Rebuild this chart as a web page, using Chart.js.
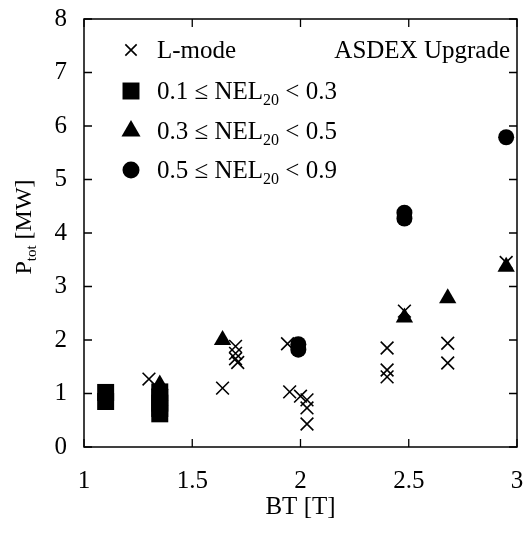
<!DOCTYPE html>
<html>
<head>
<meta charset="utf-8">
<script src="https://cdn.jsdelivr.net/npm/chart.js@4.4.0/dist/chart.umd.min.js"></script>
<style>
  html, body { margin: 0; padding: 0; background: #fff; }
  #wrap { width: 523px; height: 533px; position: relative; }
</style>
</head>
<body>
<div id="wrap"><canvas id="pwrChart"></canvas></div>
<script>
// Data
const lmodeBT = [1.30, 1.64, 1.70, 1.70, 1.70, 1.71, 1.94, 1.95, 2.00, 2.03, 2.03, 2.03, 2.40, 2.40, 2.40, 2.48, 2.68, 2.68, 2.95];
const lmodeP  = [1.27, 1.10, 1.88, 1.75, 1.65, 1.58, 1.93, 1.03, 0.95, 0.88, 0.73, 0.43, 1.85, 1.44, 1.31, 2.54, 1.94, 1.57, 3.45];

const nelLowBT = [1.10, 1.10, 1.35, 1.35, 1.35, 1.35, 1.35];
const nelLowP  = [1.02, 0.85, 1.03, 0.93, 0.82, 0.72, 0.62];

const nelMidBT = [1.35, 1.64, 2.48, 2.68, 2.95];
const nelMidP  = [1.17, 2.00, 2.42, 2.78, 3.37];

const nelHighBT = [1.99, 1.99, 2.48, 2.48, 2.95];
const nelHighP  = [1.92, 1.82, 4.38, 4.27, 5.79];

const seriesLabels = ['L-mode', '0.1 ≤ NEL_{20} < 0.3', '0.3 ≤ NEL_{20} < 0.5', '0.5 ≤ NEL_{20} < 0.9'];
const xTicks = [1, 1.5, 2, 2.5, 3];
const yTicks = [0, 1, 2, 3, 4, 5, 6, 7, 8];
const xTitle = 'BT [T]';
const yTitle = 'P_{tot} [MW]';
const corner = 'ASDEX Upgrade';

const serif = "'Liberation Serif', 'Times New Roman', serif";

function zip(xs, ys) {
  return xs.map((x, i) => ({ x: x, y: ys[i] }));
}

// Series styling
const styles = [
  { pointStyle: 'crossRot', radius: 9, borderWidth: 1.6, legendRadius: 8 },
  { pointStyle: 'rect', radius: 12, borderWidth: 0, legendRadius: 12 },
  { pointStyle: 'triangle', radius: 10, borderWidth: 0, legendRadius: 11 },
  { pointStyle: 'circle', radius: 8, borderWidth: 0, legendRadius: 8.5 }
];

const seriesData = [zip(lmodeBT, lmodeP), zip(nelLowBT, nelLowP), zip(nelMidBT, nelMidP), zip(nelHighBT, nelHighP)];

// draws text with _{..} subscripts, returns width
function drawRich(ctx, str, x, y, size, align) {
  const parts = [];
  const re = /_\{([^}]*)\}/g;
  let last = 0, m;
  while ((m = re.exec(str)) !== null) {
    if (m.index > last) parts.push({ t: str.slice(last, m.index), sub: false });
    parts.push({ t: m[1], sub: true });
    last = re.lastIndex;
  }
  if (last < str.length) parts.push({ t: str.slice(last), sub: false });

  const subSize = Math.round(size * 0.62);
  let total = 0;
  parts.forEach(p => {
    ctx.font = (p.sub ? subSize : size) + 'px ' + serif;
    p.w = ctx.measureText(p.t).width;
    total += p.w;
  });
  let cx = align === 'center' ? x - total / 2 : (align === 'right' ? x - total : x);
  ctx.textAlign = 'left';
  ctx.textBaseline = 'alphabetic';
  parts.forEach(p => {
    ctx.font = (p.sub ? subSize : size) + 'px ' + serif;
    ctx.fillText(p.t, cx, p.sub ? y + size * 0.22 : y);
    cx += p.w;
  });
  return total;
}

const framePlugin = {
  id: 'frameAndLegend',
  afterDraw(chart) {
    const ctx = chart.ctx;
    const area = chart.chartArea;
    const xs = chart.scales.x, ys = chart.scales.y;
    ctx.save();
    ctx.strokeStyle = '#000';
    ctx.fillStyle = '#000';

    // frame
    ctx.lineWidth = 1.5;
    ctx.strokeRect(area.left, area.top, area.right - area.left, area.bottom - area.top);

    // inward ticks on all sides
    const tl = 8;
    ctx.lineWidth = 1.3;
    ctx.beginPath();
    xTicks.forEach(v => {
      const px = xs.getPixelForValue(v);
      ctx.moveTo(px, area.bottom); ctx.lineTo(px, area.bottom - tl);
      ctx.moveTo(px, area.top); ctx.lineTo(px, area.top + tl);
    });
    yTicks.forEach(v => {
      const py = ys.getPixelForValue(v);
      ctx.moveTo(area.left, py); ctx.lineTo(area.left + tl, py);
      ctx.moveTo(area.right, py); ctx.lineTo(area.right - tl, py);
    });
    ctx.stroke();

    // axis titles
    drawRich(ctx, xTitle, (area.left + area.right) / 2, area.bottom + 67, 25, 'center');
    ctx.save();
    ctx.translate(31, (area.top + area.bottom) / 2 - 6);
    ctx.rotate(-Math.PI / 2);
    drawRich(ctx, yTitle, 0, 0, 24, 'center');
    ctx.restore();

    // legend
    const rowY = [50, 91, 131, 170];
    const markX = 131, textX = 157;
    seriesLabels.forEach((lab, i) => {
      const st = styles[i];
      ctx.lineWidth = st.borderWidth || 1;
      Chart.helpers.drawPoint(ctx, {
        pointStyle: st.pointStyle,
        radius: st.legendRadius,
        rotation: 0,
        borderWidth: st.borderWidth
      }, markX, rowY[i]);
      drawRich(ctx, lab, textX, rowY[i] + 8, 25, 'left');
    });
    drawRich(ctx, corner, area.right - 7, rowY[0] + 8, 25, 'right');

    ctx.restore();
  }
};

const datasets = seriesData.map((d, i) => ({
  label: seriesLabels[i],
  data: d,
  pointStyle: styles[i].pointStyle,
  pointRadius: styles[i].radius,
  pointHoverRadius: styles[i].radius,
  pointBackgroundColor: '#000',
  pointBorderColor: '#000',
  pointBorderWidth: styles[i].borderWidth,
  showLine: false
}));

// keep the plot box where the figure has it (no label overhang padding)
function noOverhang(s) {
  s.paddingLeft = 0; s.paddingRight = 0;
  s.paddingTop = 0; s.paddingBottom = 0;
}

new Chart(document.getElementById('pwrChart'), {
  type: 'scatter',
  data: { datasets: datasets },
  options: {
    responsive: true,
    maintainAspectRatio: false,
    animation: false,
    events: [],
    layout: { autoPadding: false, padding: { top: 19, right: 6, left: 0, bottom: 0 } },
    plugins: {
      legend: { display: false },
      tooltip: { enabled: false }
    },
    scales: {
      x: {
        type: 'linear',
        min: xTicks[0],
        max: xTicks[xTicks.length - 1],
        afterBuildTicks: s => { s.ticks = xTicks.map(v => ({ value: v })); },
        afterFit: s => { s.height = 86; noOverhang(s); },
        grid: { display: false, drawTicks: false },
        border: { display: false },
        ticks: {
          color: '#000',
          padding: 19,
          maxRotation: 0,
          autoSkip: false,
          font: { family: serif, size: 25 },
          callback: v => String(v)
        }
      },
      y: {
        type: 'linear',
        min: yTicks[0],
        max: yTicks[yTicks.length - 1],
        afterBuildTicks: s => { s.ticks = yTicks.map(v => ({ value: v })); },
        afterFit: s => { s.width = 84; noOverhang(s); },
        grid: { display: false, drawTicks: false },
        border: { display: false },
        ticks: {
          color: '#000',
          padding: 17,
          autoSkip: false,
          font: { family: serif, size: 25 },
          callback: v => String(v)
        }
      }
    }
  },
  plugins: [framePlugin]
});
</script>
</body>
</html>
